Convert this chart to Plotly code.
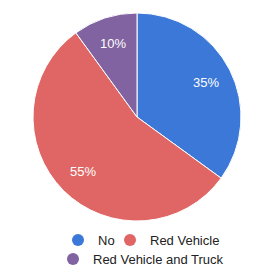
import math
import plotly.graph_objects as go

labels = ["No", "Red Vehicle", "Red Vehicle and Truck"]
values = [35, 55, 10]
colors = ["#3c78d8", "#e06666", "#8063a0"]
legend_ids = ["legend", "legend2", "legend3"]

# the page body has an 8px margin, so figure coordinates are offset by 8px
OFF = 8
W, H = 274, 277
PIE_L, PIE_R, PIE_T, PIE_B = 33, 241, 13, 221  # pie box in page pixels

fig = go.Figure()
fig.add_trace(go.Pie(
    labels=labels, values=values, sort=False, direction="clockwise", rotation=0,
    marker=dict(colors=colors, line=dict(color="white", width=1)),
    textinfo="none", showlegend=False, hoverinfo="label+percent",
    domain=dict(x=[(PIE_L - OFF) / W, (PIE_R - OFF) / W],
                y=[1 - (PIE_B - OFF) / H, 1 - (PIE_T - OFF) / H]),
))

# percentage labels placed at ~74% of the radius along each slice's mid-angle
cx = (PIE_L + PIE_R) / 2 - OFF
cy = (PIE_T + PIE_B) / 2 - OFF
rad = (PIE_R - PIE_L) / 2 * 0.74
total = sum(values)
cum = 0
annotations = []
for v in values:
    mid = (cum + v / 2) / total * 2 * math.pi
    cum += v
    px = cx + rad * math.sin(mid)
    py = cy - rad * math.cos(mid)
    annotations.append(dict(
        x=px / W, y=1 - py / H, xref="paper", yref="paper",
        xanchor="center", yanchor="middle",
        text=f"{round(v / total * 100)}%", showarrow=False,
        font=dict(color="white", size=13, family="Liberation Sans, Arial"),
    ))

for lab, col, lg in zip(labels, colors, legend_ids):
    fig.add_trace(go.Scatter(x=[None], y=[None], mode="markers", name=lab, legend=lg,
                             marker=dict(color=col, size=12, symbol="circle")))

leg_common = dict(orientation="h", xanchor="left", yanchor="middle",
                  font=dict(size=13, color="#222222", family="Liberation Sans, Arial"),
                  itemsizing="constant", bgcolor="rgba(0,0,0,0)")


def lx(marker_x):
    return (marker_x - OFF - 23) / W


def ly(row_y):
    return 1 - (row_y - OFF) / H


fig.update_layout(
    width=W, height=H, margin=dict(l=0, r=0, t=0, b=0, autoexpand=False),
    paper_bgcolor="white", plot_bgcolor="white",
    xaxis=dict(visible=False), yaxis=dict(visible=False),
    font=dict(family="Liberation Sans, Arial", size=13, color="#222222"),
    annotations=annotations,
    legend=dict(x=lx(81), y=ly(240), **leg_common),
    legend2=dict(x=lx(133), y=ly(240), **leg_common),
    legend3=dict(x=lx(76), y=ly(259), **leg_common),
)
fig.write_html("out.html")
